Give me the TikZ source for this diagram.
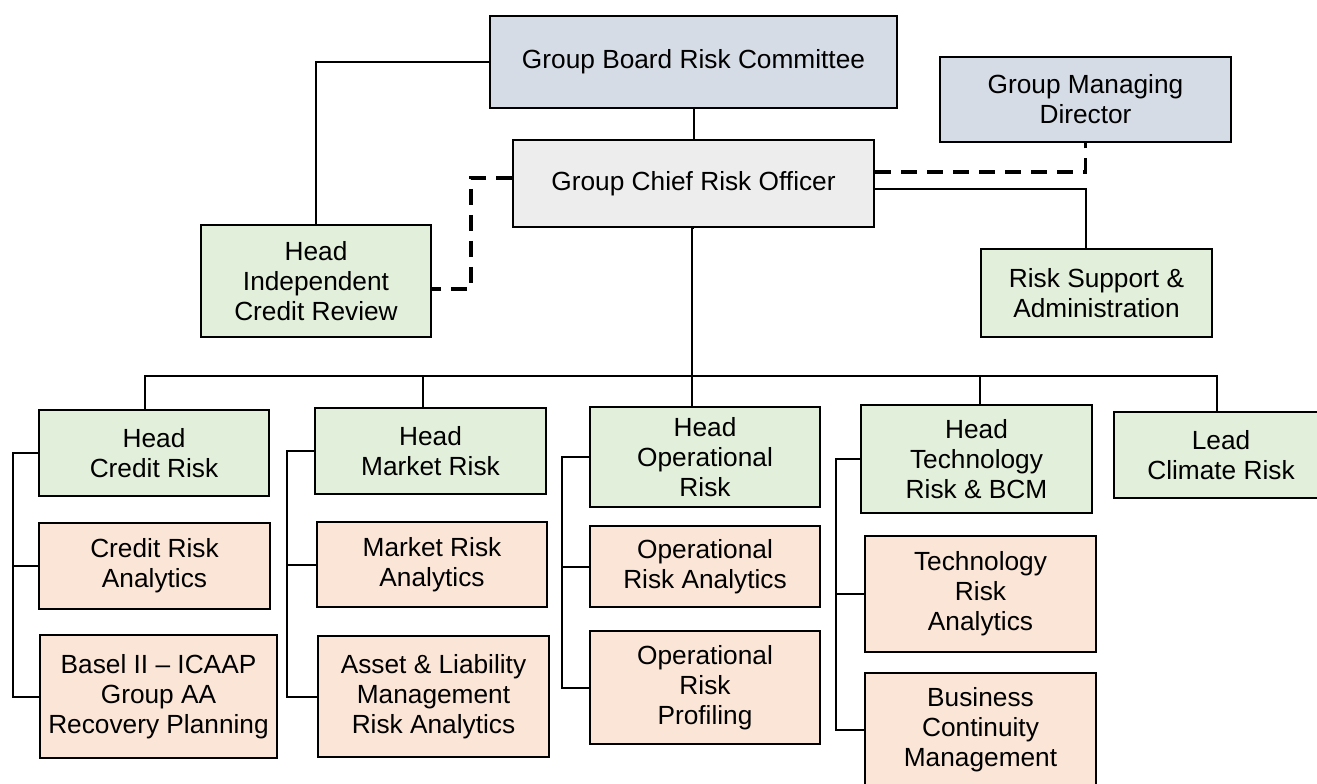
\documentclass[tikz,border=0pt]{standalone}
\usepackage{fontspec}
\setmainfont{Liberation Sans}
\definecolor{cblue}{HTML}{D6DCE5}
\definecolor{cgray}{HTML}{EDEDED}
\definecolor{cgreen}{HTML}{E2EFDA}
\definecolor{cpeach}{HTML}{FBE5D6}
\tikzset{
  bx/.style 2 args={draw=black, line width=1.5pt, inner sep=0pt, align=center,
    minimum width=#1*0.75pt, minimum height=#2*0.75pt,
    font=\fontsize{19.7pt}{22.5pt}\selectfont},
  conn/.style={draw=black, line width=1.5pt},
  dashconn/.style={draw=black, line width=2.5pt, dash pattern=on 12pt off 7.5pt}
}
\begin{document}
\begin{tikzpicture}[x=0.75pt,y=-0.75pt]
\useasboundingbox (0,0) rectangle (1317,784);
\clip (0,0) rectangle (1317,784);
% nodes
\node[bx={407}{92}, fill=cblue] (board) at (693.5,62) {Group Board Risk Committee};
\node[bx={291}{85}, fill=cblue] (gmd) at (1085.5,99.5) {Group Managing\\Director};
\node[bx={361}{87}, fill=cgray] (cro) at (693.5,183.5) {Group Chief Risk Officer};
\node[bx={230}{112}, fill=cgreen] (hicr) at (316,281) {Head\\Independent\\Credit Review};
\node[bx={231}{88}, fill=cgreen] (rsa) at (1096.5,293) {Risk Support \&\\Administration};
\node[bx={230}{86}, fill=cgreen] (hcr) at (154,453) {Head\\Credit Risk};
\node[bx={231}{86}, fill=cpeach] (cra) at (154.5,566) {Credit Risk\\Analytics};
\node[bx={237}{123}, fill=cpeach] (basel) at (158.5,696.5) {Basel II -- ICAAP\\Group AA\\Recovery Planning};
\node[bx={231}{86}, fill=cgreen] (hmr) at (430.5,451) {Head\\Market Risk};
\node[bx={230}{85}, fill=cpeach] (mra) at (432,564.5) {Market Risk\\Analytics};
\node[bx={231}{121}, fill=cpeach] (alm) at (433.5,696.5) {Asset \& Liability\\Management\\Risk Analytics};
\node[bx={230}{100}, fill=cgreen] (hor) at (705,457) {Head\\Operational\\Risk};
\node[bx={230}{81}, fill=cpeach] (ora) at (705,566.5) {Operational\\Risk Analytics};
\node[bx={230}{113}, fill=cpeach] (orp) at (705,687.5) {Operational\\Risk\\Profiling};
\node[bx={231}{108}, fill=cgreen] (htr) at (976.5,459) {Head\\Technology\\Risk \& BCM};
\node[bx={231}{116}, fill=cpeach] (tra) at (980.5,594) {Technology\\Risk\\Analytics};
\node[bx={231}{114}, fill=cpeach] (bcm) at (980.5,730) {Business\\Continuity\\Management};
\node[bx={214}{86}, fill=cgreen] (lcr) at (1221,455) {Lead\\Climate Risk};
% helper coordinates
\coordinate (dL) at (471,178);
\coordinate (dLb) at (471,289);
\coordinate (dR) at (0,172);
\coordinate (sR) at (0,189);
\coordinate (b1) at (145,376);
\coordinate (b2) at (423,376);
\coordinate (b3) at (692,376);
\coordinate (b4) at (980,376);
\coordinate (b5) at (1217,376);
\coordinate (s1) at (13,0);
\coordinate (s2) at (287,0);
\coordinate (s3) at (562,0);
\coordinate (s4) at (836,0);
% connectors
\draw[conn] (board.west) -| (hicr.north);
\draw[conn] (board) -- (cro);
\draw[dashconn] (cro.west |- dL) -- (dL) -- (dLb) -- (hicr.east |- dLb);
\draw[dashconn] (cro.east |- dR) -| (gmd.south);
\draw[conn] (cro.east |- sR) -| (gmd.south |- rsa.north);
\draw[conn] (cro.south) -- (cro.south -| b3) -- (b3);
\draw[conn] (hcr.north -| b1) -- (b1) -- (b5) -- (lcr.north -| b5);
\draw[conn] (b2) -- (hmr.north -| b2);
\draw[conn] (b3) -- (hor.north -| b3);
\draw[conn] (b4) -- (htr.north -| b4);
% spines
\draw[conn] (hcr.west) -| (s1 |- basel.west) -- (basel.west);
\draw[conn] (cra.west) -- (cra.west -| s1);
\draw[conn] (hmr.west) -| (s2 |- alm.west) -- (alm.west);
\draw[conn] (mra.west) -- (mra.west -| s2);
\draw[conn] (hor.west) -| (s3 |- orp.west) -- (orp.west);
\draw[conn] (ora.west) -- (ora.west -| s3);
\draw[conn] (htr.west) -| (s4 |- bcm.west) -- (bcm.west);
\draw[conn] (tra.west) -- (tra.west -| s4);
\end{tikzpicture}
\end{document}
